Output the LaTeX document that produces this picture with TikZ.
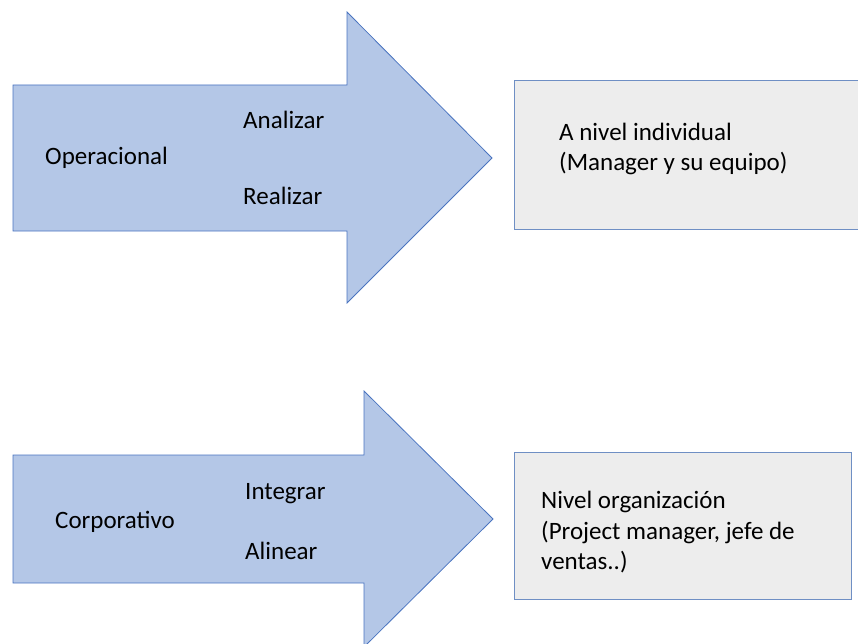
\documentclass[tikz,border=0pt]{standalone}
\usepackage{fontspec}
\setmainfont{Carlito}
\usepackage{tikz}
\usepackage{xcolor}
\usetikzlibrary{
    calc,
    positioning
}
\definecolor{arrowfill}{HTML}{B4C7E7}
\definecolor{arrowline}{HTML}{4A74C0}
\definecolor{boxfill}{HTML}{EDEDED}
\definecolor{boxline}{HTML}{6F8FC4}
\tikzset{
    bigarrow/.style={fill=arrowfill, draw=arrowline, line width=0.8pt, line join=miter},
    levelbox/.style={fill=boxfill, draw=boxline, line width=1pt},
    word/.style={anchor=base west, inner sep=0pt, font=\fontsize{25}{30.5}\selectfont},
    boxtext/.style={word, align=left}
}

\begin{document}
\begin{tikzpicture}[x=1pt, y=-1pt]
    \clip (0, 0) rectangle (858, 644);
    \useasboundingbox (0, 0) rectangle (858, 644);
    \begin{scope}[shift={(13, 0)}]
        \draw[bigarrow] (0, 85) -- (334, 85) -- (334, 12) -- (479, 158) -- (334, 303) -- (334, 231) -- (0, 231) -- cycle;
        \node[word] (opera) at (32, 165) {Operacional};
        \node[word] (analiz) at (230, 129) {Analizar};
        \node[word] (realiz) at (230, 205) {Realizar};
    \end{scope}
    \begin{scope}[shift={(13, 0)}]
        \draw[bigarrow] (0, 455) -- (351, 455) -- (351, 391) -- (480, 519) -- (351, 647) -- (351, 583) -- (0, 583) -- cycle;
        \node[word] (corpo) at (42, 528) {Corporativo};
        \node[word] (integ) at (232, 499) {Integrar};
        \node[word] (aline) at (232, 559) {Alinear};
    \end{scope}
    \begin{scope}[shift={(514, 0)}]
        \draw[levelbox] (0, 81) rectangle (350, 229);
        \node[boxtext] (indiv) at (45, 171) {A nivel individual\\(Manager y su equipo)};
    \end{scope}
    \begin{scope}[shift={(514, 0)}]
        \draw[levelbox] (0, 452) rectangle (337, 599);
        \node[boxtext] (organ) at (27, 569.5) {Nivel organización\\(Project manager, jefe de\\ventas..)};
    \end{scope}
\end{tikzpicture}
\end{document}
